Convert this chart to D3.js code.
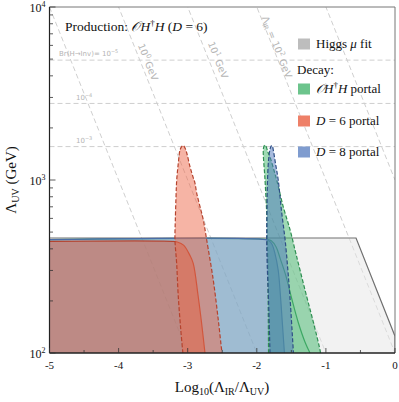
<!DOCTYPE html>
<html><head><meta charset="utf-8">
<script src="https://cdn.jsdelivr.net/npm/d3@7"></script>
<style>body{margin:0;background:#fff}svg{display:block}</style>
</head><body>
<svg id="c" width="399" height="402"></svg>
<script>
// ---------- data ----------
const xTicks = [-5, -4, -3, -2, -1, 0];
const xTickLabels = ["-5", "-4", "-3", "-2", "-1", "0"];
const yTicks = [100, 1000, 10000];
const yTickExp = ["2", "3", "4"];
const brLevels = [4930, 2770, 1560];           // Λ_UV of Br(H→inv) contours
const brExp = ["-5", "-4", "-3"];
const irLogScales = [-1, 0, 1, 2, 3];           // log10 Λ_IR / GeV diagonal guides

const higgsX = [-5, -0.564, 0, 0];
const higgsY = [462, 462, 125, 100];

const redSolidX = [-5, -3.22, -3.15, -3.06, -2.97, -2.92, -2.85, -2.80, -2.75];
const redSolidY = [442, 442, 438, 420, 368, 330, 215, 150, 100];
const redDashX = [-3.07, -3.10, -3.136, -3.16, -3.184, -3.179, -3.169, -3.159, -3.136, -3.111, -3.085, -3.065, -3.045, -3.014, -2.967, -2.919, -2.895, -2.870, -2.822, -2.774, -2.725, -2.63, -2.557, -2.508, -2.50];
const redDashY = [100, 136, 211, 330, 450, 587, 800, 1000, 1250, 1490, 1565, 1580, 1550, 1432, 1194, 1029, 960, 841, 702, 587, 450, 264, 155, 104, 100];

const blueSolidX = [-5, -1.87, -1.82, -1.78, -1.74, -1.69, -1.66, -1.64, -1.62, -1.60];
const blueSolidY = [452, 452, 444, 425, 380, 300, 220, 170, 130, 100];
const blueDashX = [-1.809, -1.83, -1.85, -1.857, -1.852, -1.845, -1.83, -1.81, -1.795, -1.784, -1.772, -1.761, -1.73, -1.69, -1.64, -1.59, -1.55, -1.52, -1.47];
const blueDashY = [100, 200, 330, 450, 700, 1000, 1300, 1500, 1565, 1580, 1560, 1490, 1250, 1000, 650, 450, 300, 210, 100];

const greenSolidX = [-5, -1.84, -1.79, -1.72, -1.66, -1.58, -1.50, -1.40, -1.30, -1.23];
const greenSolidY = [452, 452, 445, 410, 350, 280, 210, 150, 115, 100];
const greenDashX = [-1.83, -1.84, -1.848, -1.857, -1.881, -1.906, -1.895, -1.881, -1.865, -1.84, -1.809, -1.76, -1.712, -1.617, -1.519, -1.447, -1.399, -1.278, -1.18, -1.085, -1.078];
const greenDashY = [100, 300, 450, 644, 1000, 1490, 1570, 1592, 1560, 1450, 1360, 1170, 1000, 700, 516, 394, 330, 212, 150, 104, 100];

// ---------- layout ----------
const L = 49.5, R = 395, T = 7, B = 353;
const x = d3.scaleLinear().domain([-5, 0]).range([L, R]);
const y = d3.scaleLog().domain([100, 10000]).range([B, T]);
const svg = d3.select('#c');
const SERIF = "'Liberation Serif','DejaVu Serif',serif";
const SANS = "'DejaVu Sans','Liberation Sans',sans-serif";

svg.append('defs').append('clipPath').attr('id', 'clip')
  .append('rect').attr('x', L).attr('y', T).attr('width', R - L).attr('height', B - T);
const plot = svg.append('g').attr('clip-path', 'url(#clip)');

const zip = (xs, ys) => xs.map((v, i) => [v, ys[i]]);
const line = d3.line().x(d => x(d[0])).y(d => y(d[1])).curve(d3.curveCatmullRom.alpha(0.5));
const lineLin = d3.line().x(d => x(d[0])).y(d => y(d[1]));

// guides
const guide = plot.append('g').attr('stroke', '#cfcfcf').attr('stroke-width', 1).attr('stroke-dasharray', '5,3').attr('fill', 'none');
brLevels.forEach(v => guide.append('path').attr('d', lineLin([[-5, v], [0, v]])));
irLogScales.forEach(k => guide.append('path').attr('d', lineLin([[-5, Math.pow(10, k + 5)], [0, Math.pow(10, k)]])));

// regions
function region(xs, ys, fill, op, stroke, dash, lin) {
  const pts = zip(xs, ys);
  const g = lin ? lineLin : line;
  const d = g(pts) + `L${x(pts[pts.length - 1][0])},${y(100)}L${x(pts[0][0])},${y(100)}Z`;
  plot.append('path').attr('d', d).attr('fill', fill).attr('fill-opacity', op).attr('stroke', 'none');
  plot.append('path').attr('d', g(pts)).attr('fill', 'none').attr('stroke', stroke)
    .attr('stroke-width', 1.2).attr('stroke-dasharray', dash ? '4,2' : null);
}
region(higgsX, higgsY, '#e6e6e6', 0.5, '#707070', false, true);
region(greenSolidX, greenSolidY, '#3fb56a', 0.15, '#3a9a5e', false);
region(blueSolidX, blueSolidY, '#5b84c4', 0.45, '#4a6ea8', false);
region(redSolidX, redSolidY, '#d75f40', 0.53, '#b5432e', false);
region(greenDashX, greenDashY, '#3fb56a', 0.5, '#2f8f52', true);
region(blueDashX, blueDashY, '#4f78bd', 0.5, '#2f4f86', true);
region(redDashX, redDashY, '#ee6a4c', 0.5, '#b5432e', true);

// guide labels
const gl = svg.append('g').attr('fill', '#b4b4b4').attr('font-family', SANS);
const brPos = [[59, 56], [76, 100], [76, 142.5]];
brLevels.forEach((v, i) => {
  const t = gl.append('text').attr('x', brPos[i][0]).attr('y', brPos[i][1]).attr('font-size', 7);
  t.append('tspan').text(i === 0 ? 'Br(H→Inv)= 10' : '10');
  t.append('tspan').attr('dy', -3).attr('font-size', 5).text(brExp[i].replace('-', '−'));
});
const ang = Math.atan((y(100) - y(1000)) / (x(1) - x(0))) * 180 / Math.PI;
const diagLabels = [[148, 62, '', '0'], [218, 60, '', '1'], [277, 47, 'ΛIR', '2']];
diagLabels.forEach(dl => {
  const t = gl.append('text').attr('transform', `translate(${dl[0]},${dl[1]}) rotate(${ang})`)
    .attr('text-anchor', 'middle').attr('dy', '0.35em').attr('font-size', 9.5);
  if (dl[2]) { t.append('tspan').text('Λ'); t.append('tspan').attr('font-size', 6.5).attr('dy', 2).text('IR'); t.append('tspan').attr('dy', -2).text(' = 10'); }
  else t.append('tspan').text('10');
  t.append('tspan').attr('dy', -4).attr('font-size', 6.5).text(dl[3]);
  t.append('tspan').attr('dy', 4).text(' GeV');
});

// axes frame
svg.append('line').attr('x1', L).attr('x2', R).attr('y1', T).attr('y2', T).attr('stroke', '#777');
svg.append('line').attr('x1', R).attr('x2', R).attr('y1', T).attr('y2', B).attr('stroke', '#777');
svg.append('line').attr('x1', L).attr('x2', L).attr('y1', T).attr('y2', B).attr('stroke', '#222').attr('stroke-width', 1.2);
svg.append('line').attr('x1', L).attr('x2', R).attr('y1', B).attr('y2', B).attr('stroke', '#222').attr('stroke-width', 1.5);

// x ticks
const xMinor = d3.range(-4.5, 0, 1);
const ax = svg.append('g').attr('stroke', '#333').attr('stroke-width', 0.8);
xTicks.forEach(v => ax.append('line').attr('x1', x(v)).attr('x2', x(v)).attr('y1', B).attr('y2', B - 5));
xMinor.forEach(v => ax.append('line').attr('x1', x(v)).attr('x2', x(v)).attr('y1', B).attr('y2', B - 3));
// y ticks
yTicks.forEach(v => ax.append('line').attr('x1', L).attr('x2', L + 6).attr('y1', y(v)).attr('y2', y(v)));
[100, 1000].forEach(dec => d3.range(2, 10).forEach(m => {
  const v = dec * m; ax.append('line').attr('x1', L).attr('x2', L + 3.5).attr('y1', y(v)).attr('y2', y(v));
}));

const tx = svg.append('g').attr('font-family', SERIF).attr('fill', '#111');
xTicks.forEach((v, i) => tx.append('text').attr('x', x(v)).attr('y', 369).attr('text-anchor', 'middle').attr('font-size', 11).text(xTickLabels[i]));
yTicks.forEach((v, i) => {
  const t = tx.append('text').attr('x', 45.5).attr('y', y(v) + 4.5).attr('text-anchor', 'end').attr('font-size', 12);
  t.append('tspan').text('10');
  t.append('tspan').attr('dy', -5).attr('font-size', 8).text(yTickExp[i]);
});

// axis labels
const xl = tx.append('text').attr('x', 222).attr('y', 392).attr('text-anchor', 'middle').attr('font-size', 15);
xl.append('tspan').text('Log');
xl.append('tspan').attr('font-size', 10).attr('dy', 3).text('10');
xl.append('tspan').attr('dy', -3).text('(Λ');
xl.append('tspan').attr('font-size', 10).attr('dy', 3).text('IR');
xl.append('tspan').attr('dy', -3).text('/Λ');
xl.append('tspan').attr('font-size', 10).attr('dy', 3).text('UV');
xl.append('tspan').attr('dy', -3).text(')');

const yl = tx.append('text').attr('transform', 'translate(16,180) rotate(-90)').attr('text-anchor', 'middle').attr('font-size', 15);
yl.append('tspan').text('Λ');
yl.append('tspan').attr('font-size', 10).attr('dy', 3).text('UV');
yl.append('tspan').attr('dy', -3).text(' (GeV)');

// title
const tt = tx.append('text').attr('x', 65).attr('y', 31).attr('font-size', 13.5);
tt.append('tspan').text('Production: ');
tt.append('tspan').attr('font-style', 'italic').text('𝒪H');
tt.append('tspan').attr('dy', -5).attr('font-size', 9).text('†');
tt.append('tspan').attr('dy', 5).attr('font-style', 'italic').text('H');
tt.append('tspan').text(' (');
tt.append('tspan').attr('font-style', 'italic').text('D');
tt.append('tspan').text(' = 6)');

// legend
const legend = [
  { c: '#bdbdbd', y: 44, parts: [['Higgs ', ''], ['μ', 'i'], [' fit', '']] },
  { c: '#6cc48c', y: 89, parts: [['𝒪H', 'i'], ['†', 's'], ['H', 'i'], [' portal', '']] },
  { c: '#ee8068', y: 121, parts: [['D', 'i'], [' = 6 portal', '']] },
  { c: '#7f9ccf', y: 152, parts: [['D', 'i'], [' = 8 portal', '']] }
];
const lg = svg.append('g').attr('font-family', SERIF).attr('fill', '#111');
legend.forEach(it => {
  lg.append('rect').attr('x', 298).attr('y', it.y - 5.5).attr('width', 12).attr('height', 11).attr('fill', it.c);
  const t = lg.append('text').attr('x', 316).attr('y', it.y + 4).attr('font-size', 13);
  let up = false;
  it.parts.forEach(p => {
    const s = t.append('tspan').text(p[0]);
    if (p[1] === 'i') s.attr('font-style', 'italic');
    if (p[1] === 's') { s.attr('dy', -5).attr('font-size', 9).text(p[0]); up = true; }
    else if (up) { s.attr('dy', 5); up = false; }
  });
});
lg.append('text').attr('x', 297).attr('y', 74).attr('font-size', 13).text('Decay:');
</script>
</body></html>
